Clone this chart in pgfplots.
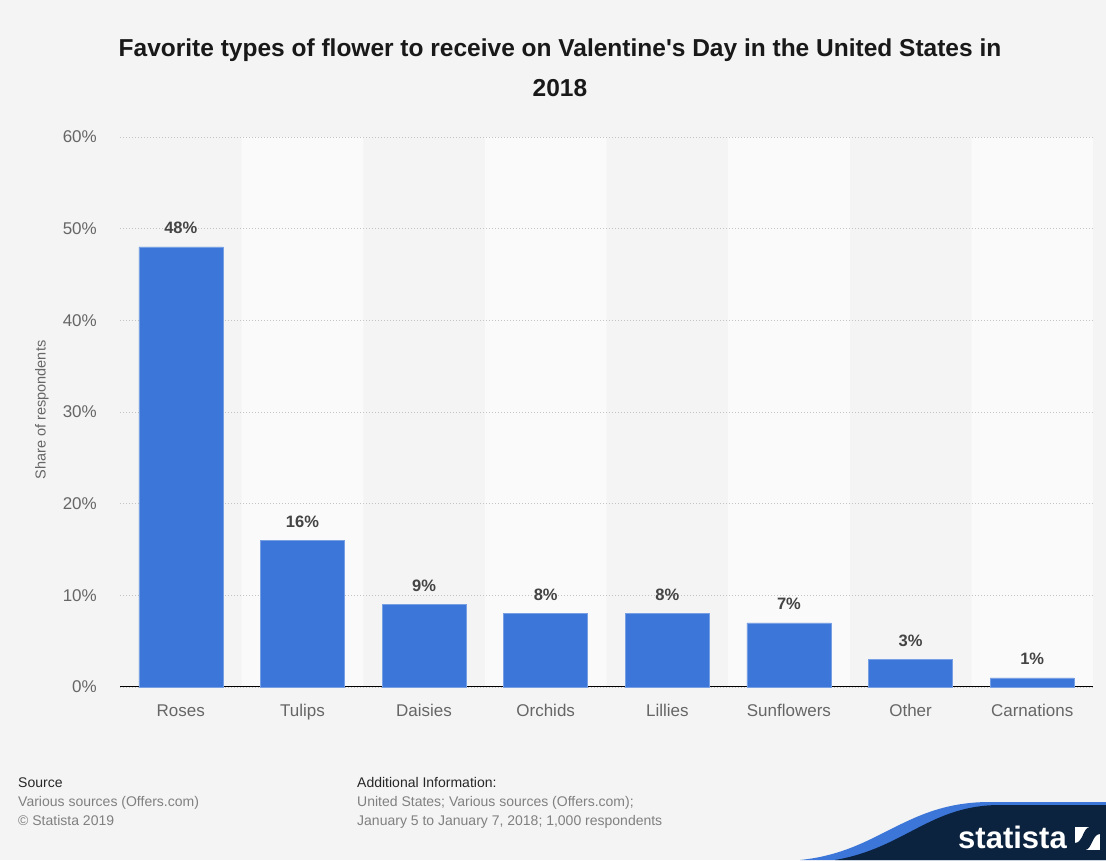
\documentclass[border=0pt]{standalone}
\usepackage{pgfplots}
\pgfplotsset{compat=1.18}
\usepackage{fontspec}
\setmainfont{Liberation Sans}
\newfontfamily\titlefont{Liberation Sans}
\definecolor{bg}{HTML}{F4F4F4}
\definecolor{band}{HTML}{FAFAFA}
\definecolor{barblue}{HTML}{3C76D8}
\definecolor{tickgray}{HTML}{666666}
\definecolor{labelgray}{HTML}{444444}
\definecolor{gridgray}{HTML}{C4C4C4}
\definecolor{footgray}{HTML}{808080}
\definecolor{navy}{HTML}{0C2340}
\definecolor{logoblue}{HTML}{3C76D8}
\pgfplotsset{layers/mylayers/.define layer set={pagebg,axis background,axis grid,axis ticks,axis lines,axis tick labels,pre main,main,axis descriptions,axis foreground}{}}
\begin{document}
\begin{tikzpicture}[x=1pt,y=1pt]
\pgfplotsset{set layers=mylayers}
\begin{pgfonlayer}{pagebg}
\fill[bg] (0,0) rectangle (1106,860);
\end{pgfonlayer}
% title
\node[align=center, font=\titlefont\bfseries\fontsize{24.5}{40}\selectfont, text=black!90] at (560,792)
  {Favorite types of flower to receive on Valentine's Day in the United States in\\2018};
% y label
\node[rotate=90, font=\fontsize{14.5}{16}\selectfont, text=tickgray] at (42,450) {Share of respondents};
\begin{axis}[
  at={(120pt,173pt)}, anchor=south west, scale only axis,
  width=973pt, height=550pt,
  xmin=-0.5, xmax=7.5, ymin=0, ymax=60,
  xtick={0,...,7},
  xticklabels={Roses,Tulips,Daisies,Orchids,Lillies,Sunflowers,Other,Carnations},
  ytick={0,10,...,60},
  yticklabel={\pgfmathprintnumber{\tick}\%},
  /pgf/number format/assume math mode=true,
  major tick length=0pt, tick style={draw=none},
  ticklabel style={font=\fontsize{17}{20}\selectfont, text=tickgray, inner sep=0pt},
  xticklabel style={anchor=base, yshift=-30pt},
  yticklabel style={anchor=east, xshift=-23pt},
  ymajorgrids,
  grid style={dash pattern=on 1pt off 2pt, line width=0.8pt, color=gridgray},
  axis x line*=bottom, axis y line*=left,
  y axis line style={draw=none},
  x axis line style={-, black, line width=1pt},
  clip=false, set layers=mylayers,
]
\addplot[ybar, bar width=121.625pt, bar shift=0pt, fill=band, draw=none, on layer=axis background]
  coordinates {(1,60) (3,60) (5,60) (7,60)};
\addplot[ybar, bar width=84pt, bar shift=0pt, fill=barblue, draw=barblue!70!white, line width=0.5pt,
  point meta=y,
  nodes near coords={\pgfmathprintnumber{\pgfplotspointmeta}\%},
  every node near coord/.append style={font=\bfseries\fontsize{16.5}{18}\selectfont, text=labelgray, anchor=base, yshift=13pt, inner sep=0pt}]
  coordinates {(0,48) (1,16) (2,9) (3,8) (4,8) (5,7) (6,3) (7,1)};
\end{axis}
% footer
\begin{scope}[font=\fontsize{14}{16}\selectfont]
\node[anchor=base west, inner sep=0pt, text=black!85] at (18,73) {Source};
\node[anchor=base west, inner sep=0pt, text=footgray] at (18,54) {Various sources (Offers.com)};
\node[anchor=base west, inner sep=0pt, text=footgray] at (18,35) {© Statista 2019};
\node[anchor=base west, inner sep=0pt, text=black!85] at (357,73) {Additional Information:};
\node[anchor=base west, inner sep=0pt, text=footgray] at (357,54) {United States; Various sources (Offers.com);};
\node[anchor=base west, inner sep=0pt, text=footgray] at (357,35) {January 5 to January 7, 2018; 1,000 respondents};
\end{scope}
% logo
\fill[logoblue] (800,0) .. controls (880,8) and (905,58) .. (990,58) -- (1106,58) -- (1106,0) -- cycle;
\fill[navy] (835,0) .. controls (905,12) and (930,55) .. (1000,55) -- (1106,55) -- (1106,0) -- cycle;
\node[anchor=base west, inner sep=0pt, text=white, font=\bfseries\fontsize{31}{32}\selectfont] at (958,12) {statista};
\fill[white] (1075,10) rectangle (1100,33);
\fill[navy] (1075,10) -- (1085,10) .. controls (1092,10) and (1092,26) .. (1100,26) -- (1100,33) -- (1090,33) .. controls (1083,33) and (1083,17) .. (1075,17) -- cycle;
\pgfresetboundingbox
\path[use as bounding box] (0,0) rectangle (1106,860);
\end{tikzpicture}
\end{document}
